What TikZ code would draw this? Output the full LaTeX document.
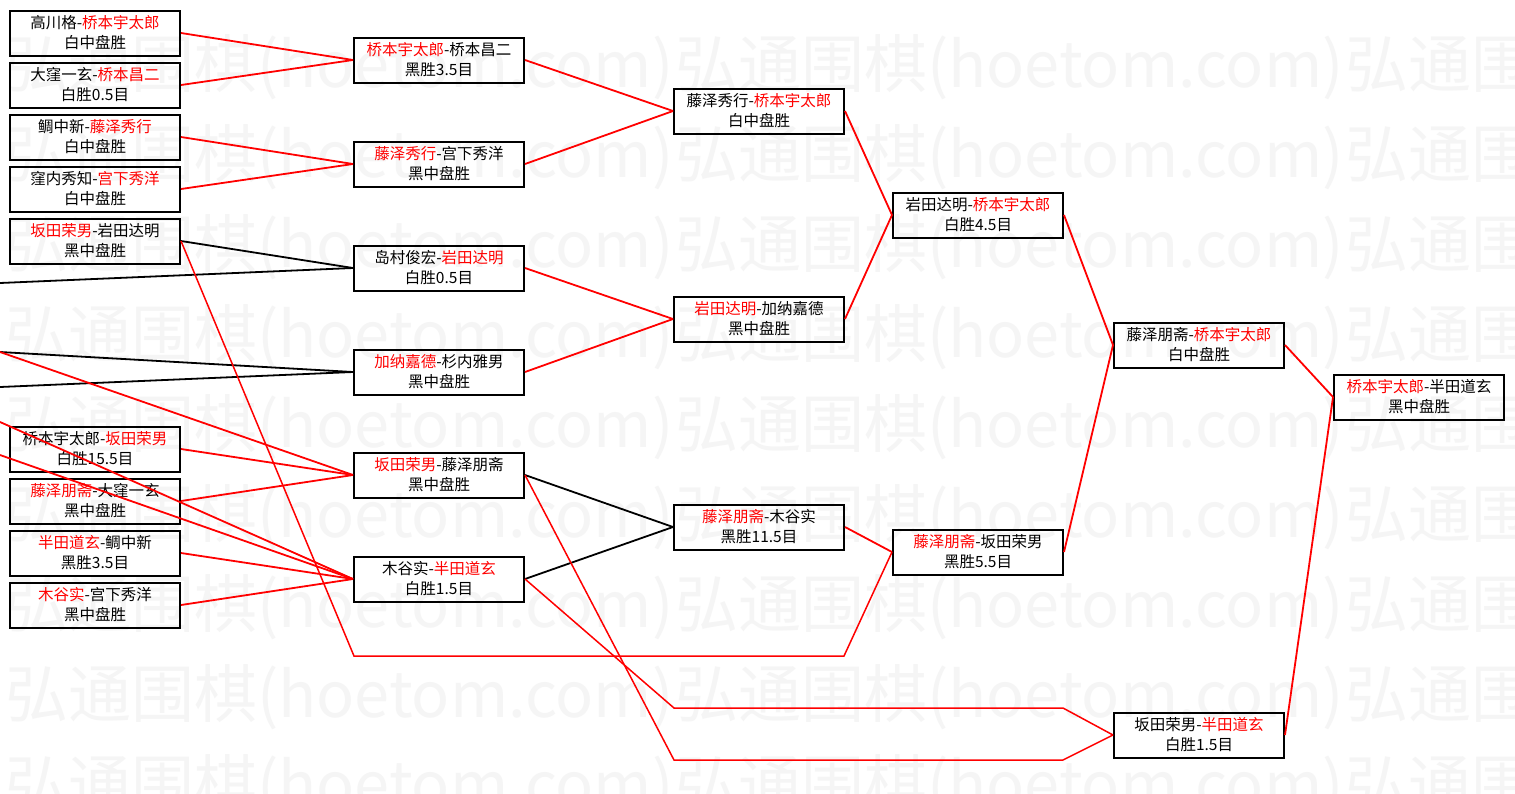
\documentclass[tikz,border=0pt]{standalone}
\usepackage{fontspec}
\newfontfamily\cjk{Noto Sans CJK SC}
\newcommand\wn[1]{\textcolor{red}{#1}}
\tikzset{
  box/.style={draw=black, line width=2pt, minimum width=170pt, minimum height=45pt,
    inner sep=0pt, align=center, font=\cjk\fontsize{15.5}{20}\selectfont},
  redline/.style={draw=red, line width=1.8pt},
  blackline/.style={draw=black, line width=1.8pt},
  redroute/.style={draw=red, line width=1.5pt},
  wm/.style={anchor=north west, inner sep=0pt, text=black!4,
    font=\cjk\fontsize{63}{63}\selectfont}
}
\begin{document}
\begin{tikzpicture}[x=1pt, y=-1pt]
\useasboundingbox (0,0) rectangle (1515,793);
\fill[white] (0,0) rectangle (1515,793);
\begin{scope}
\clip (0,0) rectangle (1515,793);
\foreach \r in {0,...,8} {
  \foreach \c in {0,1,2} {
    \node[wm] (wm-\r-\c) at ({5+670*\c},{34+90*\r}) {弘通围棋(hoetom.com)};
  }
}
\end{scope}

% column 1
\node[box] (A1)  at (95,33)  {高川格-\wn{桥本宇太郎}\\白中盘胜};
\node[box] (A2)  at (95,85)  {大窪一玄-\wn{桥本昌二}\\白胜0.5目};
\node[box] (A3)  at (95,137) {鲷中新-\wn{藤泽秀行}\\白中盘胜};
\node[box] (A4)  at (95,189) {窪内秀知-\wn{宫下秀洋}\\白中盘胜};
\node[box] (A5)  at (95,241) {\wn{坂田荣男}-岩田达明\\黑中盘胜};
\node[box] (A9)  at (95,449) {桥本宇太郎-\wn{坂田荣男}\\白胜15.5目};
\node[box] (A10) at (95,501) {\wn{藤泽朋斋}-大窪一玄\\黑中盘胜};
\node[box] (A11) at (95,553) {\wn{半田道玄}-鲷中新\\黑胜3.5目};
\node[box] (A12) at (95,605) {\wn{木谷实}-宫下秀洋\\黑中盘胜};
% column 2
\node[box] (B1) at (439,60)  {\wn{桥本宇太郎}-桥本昌二\\黑胜3.5目};
\node[box] (B2) at (439,164) {\wn{藤泽秀行}-宫下秀洋\\黑中盘胜};
\node[box] (B3) at (439,268) {岛村俊宏-\wn{岩田达明}\\白胜0.5目};
\node[box] (B4) at (439,372) {\wn{加纳嘉德}-杉内雅男\\黑中盘胜};
\node[box] (B5) at (439,475) {\wn{坂田荣男}-藤泽朋斋\\黑中盘胜};
\node[box] (B6) at (439,579) {木谷实-\wn{半田道玄}\\白胜1.5目};
% column 3
\node[box] (C1) at (759,111) {藤泽秀行-\wn{桥本宇太郎}\\白中盘胜};
\node[box] (C2) at (759,319) {\wn{岩田达明}-加纳嘉德\\黑中盘胜};
\node[box] (C3) at (759,527) {\wn{藤泽朋斋}-木谷实\\黑胜11.5目};
% column 4
\node[box] (D1) at (978,215) {岩田达明-\wn{桥本宇太郎}\\白胜4.5目};
\node[box] (D2) at (978,552) {\wn{藤泽朋斋}-坂田荣男\\黑胜5.5目};
% column 5
\node[box] (E1) at (1199,345) {藤泽朋斋-\wn{桥本宇太郎}\\白中盘胜};
\node[box] (E2) at (1199,735) {坂田荣男-\wn{半田道玄}\\白胜1.5目};
% column 6
\node[box] (F1) at (1419,397) {\wn{桥本宇太郎}-半田道玄\\黑中盘胜};

% free ends at the left edge
\coordinate (L1) at (0,283);
\coordinate (L2) at (0,352);
\coordinate (L3) at (0,387);
\coordinate (L4) at (0,422);
\coordinate (L5) at (0,455);
% bends of routed connectors
\coordinate (P1) at (354,656);
\coordinate (P2) at (844,656);
\coordinate (Q1) at (674,708);
\coordinate (Q2) at (1063,708);
\coordinate (R1) at (674,760);
\coordinate (R2) at (1063,760);

% round 1
\draw[redline] (A1.east) -- (B1.west);
\draw[redline] (A2.east) -- (B1.west);
\draw[redline] (A3.east) -- (B2.west);
\draw[redline] (A4.east) -- (B2.west);
\draw[blackline] (A5.east) -- (B3.west);
\draw[blackline] (L1) -- (B3.west);
\draw[blackline] (L2) -- (B4.west);
\draw[blackline] (L3) -- (B4.west);
\draw[redline] (L2) -- (B5.west);
\draw[redline] (A9.east) -- (B5.west);
\draw[redline] (A10.east) -- (B5.west);
\draw[redline] (L4) -- (B6.west);
\draw[redline] (L5) -- (B6.west);
\draw[redline] (A11.east) -- (B6.west);
\draw[redline] (A12.east) -- (B6.west);
% round 2
\draw[redline] (B1.east) -- (C1.west);
\draw[redline] (B2.east) -- (C1.west);
\draw[redline] (B3.east) -- (C2.west);
\draw[redline] (B4.east) -- (C2.west);
\draw[blackline] (B5.east) -- (C3.west);
\draw[blackline] (B6.east) -- (C3.west);
% routed
\draw[redroute] (A5.east) -- (P1) -- (P2) -- (D2.west);
\draw[redroute] (B6.east) -- (Q1) -- (Q2) -- (E2.west);
\draw[redroute] (B5.east) -- (R1) -- (R2) -- (E2.west);
% later rounds
\draw[redline] (C1.east) -- (D1.west);
\draw[redline] (C2.east) -- (D1.west);
\draw[redline] (C3.east) -- (D2.west);
\draw[redline] (D1.east) -- (E1.west);
\draw[redline] (D2.east) -- (E1.west);
\draw[redline] (E1.east) -- (F1.west);
\draw[redline] (E2.east) -- (F1.west);
\end{tikzpicture}
\end{document}
